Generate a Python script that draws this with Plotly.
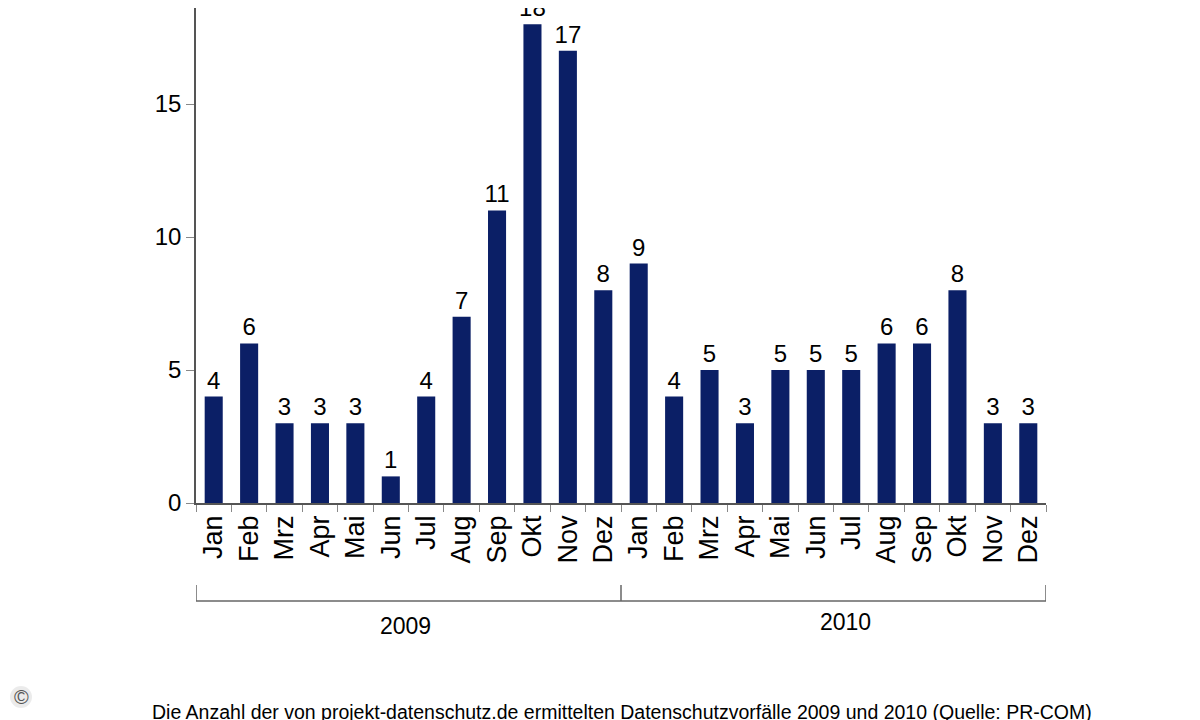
import plotly.graph_objects as go

months = ["Jan", "Feb", "Mrz", "Apr", "Mai", "Jun", "Jul", "Aug", "Sep", "Okt", "Nov", "Dez"]
years = ["2009", "2010"]
values_2009 = [4, 6, 3, 3, 3, 1, 4, 7, 11, 18, 17, 8]
values_2010 = [9, 4, 5, 3, 5, 5, 5, 6, 6, 8, 3, 3]
y_ticks = [0, 5, 10, 15]
caption = "Die Anzahl der von projekt-datenschutz.de ermittelten Datenschutzvorfälle 2009 und 2010 (Quelle: PR-COM)"

labels = months + months
values = values_2009 + values_2010
xpos = list(range(len(values)))

BAR = "#0b1f66"
FONT = "Liberation Sans, Arial, sans-serif"

# page is offset by the 8px body margin; figure coordinates = page - 8
W, H = 1192, 712
PL, PR, PB = 188, 1038, 495   # plot area in figure px
PH = PB                        # top margin 0
UNIT = 26.6                    # px per value unit

fig = go.Figure()
fig.add_trace(go.Bar(
    x=xpos, y=values, marker_color=BAR, marker_line_width=0,
    text=[str(v) for v in values], textposition="outside",
    textfont=dict(size=24, color="black", family=FONT),
    constraintext="none",
    cliponaxis=False, width=0.51,
))

fig.update_layout(
    width=W, height=H,
    margin=dict(l=PL, r=W - PR, t=0, b=H - PB, pad=0, autoexpand=False),
    paper_bgcolor="white", plot_bgcolor="white",
    showlegend=False,
    font=dict(family=FONT, color="black"),
    xaxis=dict(
        range=[-0.5, len(values) - 0.5],
        tickmode="array", tickvals=xpos, ticktext=labels,
        tickangle=-90, ticks="", tickfont=dict(size=27, family=FONT),
        showline=True, linecolor="#555", linewidth=1.5,
        showgrid=False, zeroline=False, automargin=False,
        minor=dict(tickmode="linear", tick0=-0.5, dtick=1, ticks="outside",
                   ticklen=7, tickcolor="#888", tickwidth=1, showgrid=False),
    ),
    yaxis=dict(
        range=[0, PH / UNIT], tickmode="array", tickvals=y_ticks,
        ticks="outside", ticklen=8, tickcolor="#888",
        tickfont=dict(size=24, family=FONT),
        showline=True, linecolor="#555", linewidth=1.5,
        showgrid=False, zeroline=False, automargin=False,
    ),
)


def py(page_y):
    return (503 - page_y) / PH


def px(page_x):
    return (page_x - 196) / (PR - PL)


# year brackets
n = len(months)
y_line = py(601)
y_top = py(585)
year_y = [py(626), py(622)]
year_x = [px(405), px(845)]
for i, yr in enumerate(years):
    x0 = i * n - 0.5
    x1 = (i + 1) * n - 0.5
    fig.add_shape(type="line", xref="x", yref="paper", x0=x0, x1=x1, y0=y_line, y1=y_line,
                  line=dict(color="#666", width=1.5))
    fig.add_annotation(xref="paper", yref="paper", x=year_x[i], y=year_y[i],
                       xanchor="center", yanchor="middle",
                       text=yr, showarrow=False, font=dict(size=23, family=FONT))
for b in range(len(years) + 1):
    xb = b * n - 0.5
    fig.add_shape(type="line", xref="x", yref="paper", x0=xb, x1=xb, y0=y_line, y1=y_top,
                  line=dict(color="#666", width=1.5))

fig.add_annotation(xref="paper", yref="paper", x=px(622), y=py(712),
                   xanchor="center", yanchor="middle",
                   text=caption, showarrow=False, font=dict(size=19.5, family=FONT))
# copyright badge with soft halo
fig.add_shape(type="circle", xref="paper", yref="paper",
              x0=px(10), x1=px(32), y0=py(708), y1=py(686),
              fillcolor="rgba(0,0,0,0.08)", line=dict(width=0))
fig.add_annotation(xref="paper", yref="paper", x=px(21), y=py(697),
                   xanchor="center", yanchor="middle",
                   text="©", showarrow=False, font=dict(size=20, color="#555", family=FONT))

fig.write_html("out.html")
